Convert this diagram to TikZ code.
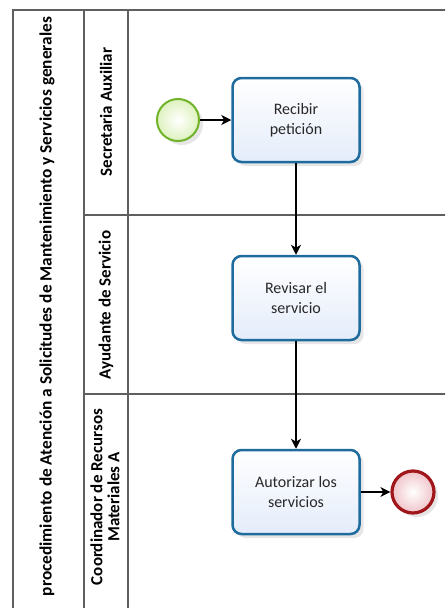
\documentclass[tikz,border=0pt]{standalone}
\usepackage{fontspec}
\setmainfont{Carlito}
\usetikzlibrary{arrows.meta, shadows}
\definecolor{taskline}{RGB}{30,108,158}
\definecolor{taskfill}{RGB}{228,236,250}
\definecolor{startline}{RGB}{112,178,40}
\definecolor{startfill}{RGB}{222,242,190}
\definecolor{endline}{RGB}{160,22,26}
\definecolor{endfill}{RGB}{240,196,202}
\definecolor{laneline}{RGB}{95,95,95}
\definecolor{tasktext}{RGB}{40,40,40}
\tikzstyle{frame} = [laneline, line width=1.3pt]
\tikzstyle{pooltitle} = [font=\fontsize{17.3}{20}\selectfont\bfseries, inner sep=0]
\tikzstyle{lanetitle} = [font=\fontsize{17}{17}\selectfont\bfseries, align=center, inner sep=0]
\tikzstyle{task} = [rectangle, rounded corners=9pt, minimum width=127pt, minimum height=84pt, align=center, draw=taskline, line width=2.5pt, top color=white, bottom color=taskfill, drop shadow={opacity=0.2, shadow xshift=4pt, shadow yshift=-4pt}, text=tasktext, font=\fontsize{16}{20}\selectfont]
\tikzstyle{startev} = [shape=circle, minimum size=42pt, inner sep=0, draw=startline, line width=2pt, inner color=white, outer color=startfill, drop shadow={opacity=0.2, shadow xshift=4pt, shadow yshift=-4pt}]
\tikzstyle{endev} = [shape=circle, minimum size=42pt, inner sep=0, draw=endline, line width=3.2pt, inner color=white, outer color=endfill, drop shadow={opacity=0.2, shadow xshift=4pt, shadow yshift=-4pt}]
\tikzstyle{flow} = [line width=1.2pt, -{Stealth[length=10pt, width=10pt, inset=3pt]}]
\begin{document}
\begin{tikzpicture}[x=1pt,y=-1pt]
\useasboundingbox (0,0) rectangle (445,608);
\clip (0,0) rectangle (445,608);
% pool and lanes
\draw[frame, line width=1.8pt] (13,620) -- (13,10) -- (460,10);
\draw[frame] (84,10) -- (84,620);
\draw[frame] (128,10) -- (128,620);
\draw[frame] (84,215) -- (460,215);
\draw[frame] (84,394) -- (460,394);

\node[pooltitle, rotate=90, anchor=east] (pool) at (47,17) {procedimiento de Atención a Solicitudes de Mantenimiento y Servicios generales};
\node[lanetitle, rotate=90] (secaux) at (106,112) {Secretaria Auxiliar};
\node[lanetitle, rotate=90] (ayudserv) at (106,305) {Ayudante de Servicio};
\node[lanetitle, rotate=90] (coordrm) at (105,497) {Coordinador de Recursos\\Materiales A};

% flow
\node[startev] (inicio) at (178,120) {};
\node[task] (recibir) at (296,120) {Recibir\\petición};
\node[task] (revisar) at (296,298) {Revisar el\\servicio};
\node[task] (autorizar) at (296,492) {Autorizar los\\servicios};
\node[endev] (fin) at (413,492) {};

\draw[flow] (inicio) -- (recibir);
\draw[flow] (recibir) -- (revisar);
\draw[flow] (revisar) -- (autorizar);
\draw[flow] (autorizar) -- (fin);
\end{tikzpicture}
\end{document}
